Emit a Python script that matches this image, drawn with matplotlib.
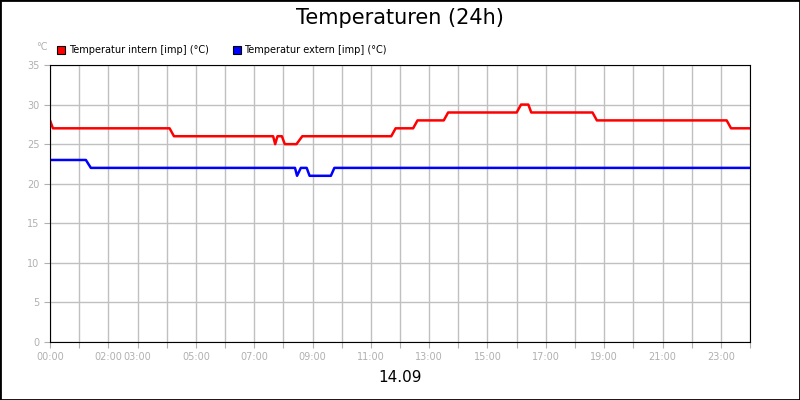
import matplotlib
matplotlib.use("Agg")
import matplotlib.pyplot as plt
from matplotlib.patches import Rectangle, Patch

# hours since midnight, temperature in deg C
intern_h = [0, 0.1, 4.1, 4.25, 7.65, 7.72, 7.8, 7.95, 8.05, 8.45, 8.65, 11.7, 11.85, 12.45, 12.6, 13.5, 13.65, 16.0, 16.15, 16.4, 16.5, 18.6, 18.75, 23.2, 23.35, 24]
intern_t = [28, 27, 27, 26, 26, 25, 26, 26, 25, 25, 26, 26, 27, 27, 28, 28, 29, 29, 30, 30, 29, 29, 28, 28, 27, 27]
extern_h = [0, 1.23, 1.4, 8.4, 8.47, 8.6, 8.8, 8.9, 9.63, 9.75, 24]
extern_t = [23, 23, 22, 22, 21, 22, 22, 21, 21, 22, 22]

tick_hours = [0, 2, 3, 5, 7, 9, 11, 13, 15, 17, 19, 21, 23]
series_names = ["Temperatur intern [imp] (°C)", "Temperatur extern [imp] (°C)"]
series_colors = ["#ff0000", "#0000ff"]

fig = plt.figure(figsize=(8, 4), dpi=100)
fig.patches.append(Rectangle((0, 0), 1, 1, transform=fig.transFigure, fill=False,
                             edgecolor="black", linewidth=2))
ax = fig.add_axes([50/800, 1-342/400, 700/800, 277/400])

ax.plot(intern_h, intern_t, color=series_colors[0], linewidth=1.8)
ax.plot(extern_h, extern_t, color=series_colors[1], linewidth=1.8)

ax.set_xlim(0, 24)
ax.set_ylim(0, 35)
ax.set_xticks(range(25))
ax.set_xticklabels(["%02d:00" % h if h in tick_hours else "" for h in range(25)])
ax.set_yticks(range(0, 36, 5))
ax.grid(True, color="#c0c0c0", linewidth=1)
ax.set_axisbelow(True)
ax.tick_params(colors="#b0b0b0", labelsize=7, length=4)
for s in ax.spines.values():
    s.set_color("black")

fig.text(0.5, 0.955, "Temperaturen (24h)", ha="center", va="center", fontsize=15)
fig.text(0.5, 0.055, "14.09", ha="center", va="center", fontsize=11)
fig.text(42/800, 1-47/400, "°C", ha="center", va="center", fontsize=7, color="#b0b0b0")
handles = [Patch(facecolor=c, edgecolor="black", linewidth=0.8) for c in series_colors]
ax.legend(handles, series_names, loc="lower left", bbox_to_anchor=(0.01, 1.035), ncol=2,
          frameon=False, fontsize=7, handlelength=0.8, handleheight=0.8, borderaxespad=0,
          borderpad=0, columnspacing=2.5, handletextpad=0.4)

fig.savefig("out.png")
